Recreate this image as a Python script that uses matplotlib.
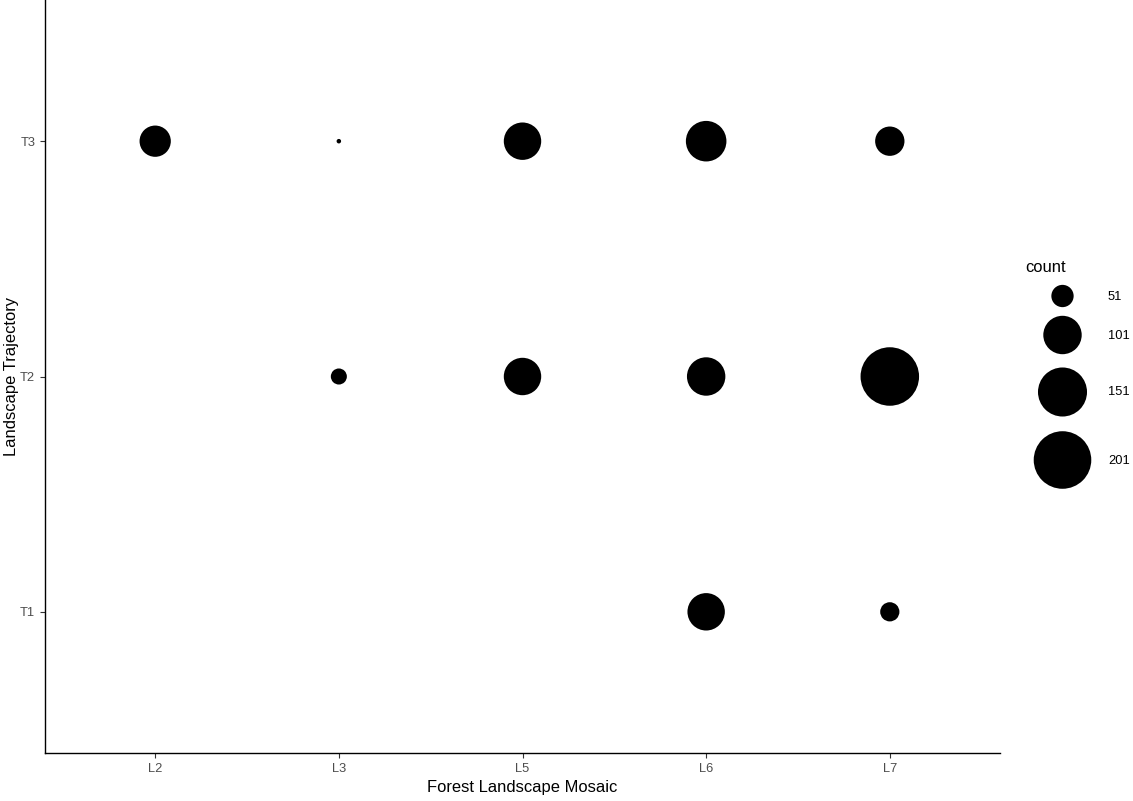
import matplotlib
matplotlib.use("Agg")
import matplotlib.pyplot as plt
import numpy as np

plt.rcParams['font.family'] = ['Liberation Sans', 'DejaVu Sans']

# ---- data ----
mosaic = ["L2", "L3", "L5", "L6", "L7"]
trajectory = ["T1", "T2", "T3"]
pt_mosaic = ["L2", "L3", "L5", "L6", "L7", "L3", "L5", "L6", "L7", "L6", "L7"]
pt_traj   = ["T3", "T3", "T3", "T3", "T3", "T2", "T2", "T2", "T2", "T1", "T1"]
pt_count  = [75, 32, 97, 110, 69, 40, 97, 101, 207, 97, 45]
legend_breaks = [51, 101, 151, 201]

W, H, DPI = 1133, 801, 100
fig = plt.figure(figsize=(W / DPI, H / DPI), dpi=DPI)

cmin, cmax = min(pt_count), max(pt_count)
def diam_px(v):
    v = np.asarray(v, dtype=float)
    return 4.5 + 54 * np.sqrt(np.clip((v - cmin) / (cmax - cmin), 0, None))
def s_of(v):
    d_pt = diam_px(v) * 72 / DPI
    return d_pt ** 2

# main axes in pixel coords: left 45, right 1000, top 0, bottom 753
L, R, T, B = 45, 1000, 0, 753
ax = fig.add_axes([L / W, (H - B) / H, (R - L) / W, (B - T) / H])
xi = [mosaic.index(m) for m in pt_mosaic]
yi = [trajectory.index(t) for t in pt_traj]
ax.scatter(xi, yi, s=s_of(pt_count), c="black", edgecolors="none")
ax.set_xlim(-0.6, len(mosaic) - 1 + 0.6)
ax.set_ylim(-0.6, len(trajectory) - 1 + 0.6)
ax.set_xticks(range(len(mosaic)))
ax.set_xticklabels(mosaic)
ax.set_yticks(range(len(trajectory)))
ax.set_yticklabels(trajectory)
for sp in ["top", "right"]:
    ax.spines[sp].set_visible(False)
for sp in ["left", "bottom"]:
    ax.spines[sp].set_linewidth(1.0)
    ax.spines[sp].set_color("black")
ax.tick_params(axis="both", length=3.5, width=0.8, color="#333333",
               labelsize=9.3, labelcolor="#4D4D4D", pad=3.5)
ax.set_xlabel("Forest Landscape Mosaic", fontsize=11.9, color="black", labelpad=4)

# overlay in figure pixel coordinates (y label and legend)
lax = fig.add_axes([0, 0, 1, 1], facecolor="none")
lax.set_xlim(0, W)
lax.set_ylim(H, 0)
lax.axis("off")
lax.text(12, 377, "Landscape Trajectory", fontsize=11.9, rotation=90,
         ha="center", va="center", color="black")
lax.text(1025, 268, "count", fontsize=11.9, ha="left", va="center", color="black")
key_y = [296, 335, 392, 460]
lab_y = [297, 336, 392, 461]
lax.scatter([1062.5] * len(legend_breaks), key_y, s=s_of(legend_breaks),
            c="black", edgecolors="none")
for y, b in zip(lab_y, legend_breaks):
    lax.text(1108, y, str(b), fontsize=9.3, ha="left", va="center", color="black")

fig.savefig("out.png", dpi=DPI)
